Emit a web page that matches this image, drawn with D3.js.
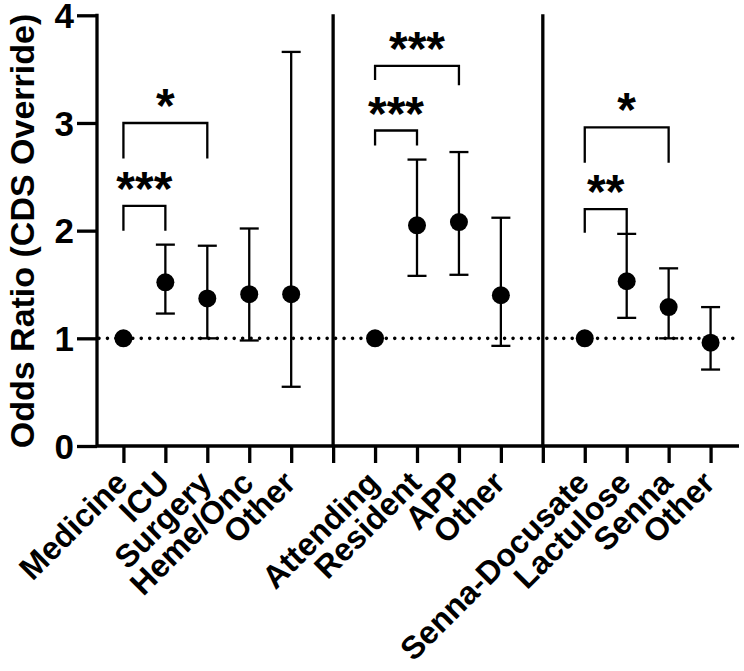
<!DOCTYPE html>
<html>
<head>
<meta charset="utf-8">
<script src="https://cdn.jsdelivr.net/npm/d3@7"></script>
<style>
  body { margin: 0; background: #fff; }
  text { font-family: "Liberation Sans", Arial, sans-serif; font-weight: bold; }
</style>
</head>
<body>
<svg id="chart"></svg>
<script>
// Categories, grouped by the vertical dividers
var labels = ["Medicine", "ICU", "Surgery", "Heme/Onc", "Other",
              "Attending", "Resident", "APP", "Other",
              "Senna-Docusate", "Lactulose", "Senna", "Other"];
var groups = [0, 0, 0, 0, 0, 1, 1, 1, 1, 2, 2, 2, 2];

// Odds ratios with 95% CI (reference categories have no CI)
var oddsRatio = [1, 1.52, 1.37, 1.41, 1.41, 1, 2.05, 2.08, 1.40, 1, 1.53, 1.29, 0.96];
var ciLow  = [null, 1.23, 1.00, 0.98, 0.55, null, 1.58, 1.59, 0.93, null, 1.19, 1.00, 0.71];
var ciHigh = [null, 1.87, 1.86, 2.02, 3.66, null, 2.66, 2.73, 2.12, null, 1.97, 1.65, 1.29];

// Significance brackets: category indices, bar height, leg ends, stars
var bracketFrom  = [0, 0, 5, 5, 9, 9];
var bracketTo    = [2, 1, 7, 6, 11, 10];
var bracketY     = [3.00, 2.23, 3.53, 2.93, 2.96, 2.20];
var bracketLegL  = [2.67, 2.00, 3.40, 2.79, 2.63, 1.98];
var bracketLegR  = [2.67, 2.00, 3.35, 2.79, 2.63, 1.96];
var bracketStars = ["*", "***", "***", "***", "*", "**"];

var yTicks = [0, 1, 2, 3, 4];

var width = 744, height = 671;
var svg = d3.select("#chart")
    .attr("width", width)
    .attr("height", height);

// Slot index: each group after the first is shifted by one slot for the divider
function slot(i) { return i + groups[i]; }
var nSlots = labels.length + 2;

var x = d3.scalePoint()
          .domain(d3.range(nSlots))
          .range([97, 737])
          .padding(0.63);

var y = d3.scaleLinear()
          .domain([0, 4])
          .range([446, 15.3]);

// Reference line at OR = 1
svg.append("line")
    .attr("x1", 99).attr("x2", 739)
    .attr("y1", y(1)).attr("y2", y(1))
    .attr("stroke", "#000")
    .attr("stroke-width", 3.6)
    .attr("stroke-linecap", "round")
    .attr("stroke-dasharray", "0,8.45");

// Group dividers
var dividerSlots = [5, 10];
svg.selectAll(".divider")
    .data(dividerSlots)
  .enter().append("line")
    .classed("divider", true)
    .attr("x1", d => x(d)).attr("x2", d => x(d))
    .attr("y1", y(4) - 1).attr("y2", y(0))
    .attr("stroke", "#000")
    .attr("stroke-width", 3.3);

// Axes
var yAxis = svg.append("g")
    .attr("transform", "translate(97,0)")
    .call(d3.axisLeft(y).tickValues(yTicks).tickSize(20).tickSizeOuter(0).tickFormat(d3.format("d")));
yAxis.select(".domain").attr("stroke-width", 3.3).attr("d", "M0," + (y(4) - 1.5) + "V" + y(0));
yAxis.selectAll(".tick line").attr("stroke-width", 3.3);
yAxis.selectAll(".tick text")
    .attr("x", -23)
    .attr("dy", "0.35em")
    .attr("font-size", 35)
    .attr("fill", "#000");

var xAxis = svg.append("g")
    .attr("transform", "translate(0," + y(0) + ")")
    .call(d3.axisBottom(x).tickSize(17).tickSizeOuter(0).tickFormat(""));
xAxis.select(".domain").attr("stroke-width", 3.3).attr("d", "M96,0H739");
xAxis.selectAll(".tick line").attr("stroke-width", 3.3);

// Category labels, rotated
svg.selectAll(".cat-label")
    .data(labels)
  .enter().append("text")
    .classed("cat-label", true)
    .attr("transform", (d, i) => "translate(" + (x(slot(i)) + 6) + "," + 485 + ") rotate(-45)")
    .attr("text-anchor", "end")
    .attr("font-size", 32)
    .text(d => d);

// Y axis title
svg.append("text")
    .attr("transform", "translate(34," + 231 + ") rotate(-90)")
    .attr("text-anchor", "middle")
    .attr("font-size", 34)
    .text("Odds Ratio (CDS Override)");

// Error bars
var ciIdx = d3.range(labels.length).filter(i => ciLow[i] !== null);
var bars = svg.selectAll(".ci")
    .data(ciIdx)
  .enter().append("g")
    .classed("ci", true)
    .attr("stroke", "#000")
    .attr("stroke-width", 2.3);
bars.append("line")
    .attr("x1", i => x(slot(i))).attr("x2", i => x(slot(i)))
    .attr("y1", i => y(ciLow[i])).attr("y2", i => y(ciHigh[i]));
bars.append("line")
    .attr("x1", i => x(slot(i)) - 9.5).attr("x2", i => x(slot(i)) + 9.5)
    .attr("y1", i => y(ciLow[i])).attr("y2", i => y(ciLow[i]));
bars.append("line")
    .attr("x1", i => x(slot(i)) - 9.5).attr("x2", i => x(slot(i)) + 9.5)
    .attr("y1", i => y(ciHigh[i])).attr("y2", i => y(ciHigh[i]));

// Points
svg.selectAll(".pt")
    .data(oddsRatio)
  .enter().append("circle")
    .classed("pt", true)
    .attr("cx", (d, i) => x(slot(i)))
    .attr("cy", d => y(d))
    .attr("r", 9)
    .attr("fill", "#000");

// Significance brackets
var bk = svg.selectAll(".bracket")
    .data(d3.range(bracketFrom.length))
  .enter().append("g")
    .classed("bracket", true);
bk.append("path")
    .attr("fill", "none")
    .attr("stroke", "#000")
    .attr("stroke-width", 2.3)
    .attr("d", function(k) {
      var x1 = x(slot(bracketFrom[k])), x2 = x(slot(bracketTo[k]));
      return "M" + x1 + "," + y(bracketLegL[k]) + "V" + y(bracketY[k]) +
             "H" + x2 + "V" + y(bracketLegR[k]);
    });
bk.append("text")
    .attr("x", k => (x(slot(bracketFrom[k])) + x(slot(bracketTo[k]))) / 2)
    .attr("y", k => y(bracketY[k]) - 1)
    .attr("text-anchor", "middle")
    .attr("font-size", 48)
    .text(k => bracketStars[k]);
</script>
</body>
</html>
